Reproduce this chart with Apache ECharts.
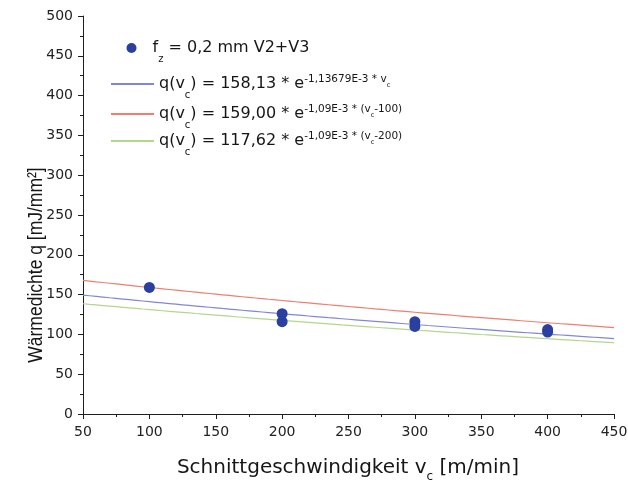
<!DOCTYPE html>
<html>
<head>
<meta charset="utf-8">
<script src="https://cdn.jsdelivr.net/npm/echarts@6/dist/echarts.min.js"></script>
<style>
  html, body { margin: 0; padding: 0; background: #ffffff; }
  #chart { width: 628px; height: 480px; }
</style>
</head>
<body>
<div id="chart"></div>
<script>
// Measured heat density per cutting speed (fz = 0,2 mm, V2+V3)
const speedValues = [100, 200, 200, 300, 300, 400, 400];
const heatValues  = [159, 126, 116, 116, 110, 106, 103];

// Exponential fits: q(vc) = A * exp(-k * (vc - v0)), coefficients as given in the legend
const fitNames     = ['fit1', 'fit2', 'fit3'];
const fitAmplitude = [158.13, 159.00, 117.62];
const fitRate      = [1.13679e-3, 1.09e-3, 1.09e-3];
const fitShift     = [0, 100, 200];

// Axis ranges and ticks
const xTicks = [50, 100, 150, 200, 250, 300, 350, 400, 450];
const yTicks = [0, 50, 100, 150, 200, 250, 300, 350, 400, 450, 500];

const FONT = 'DejaVu Sans';
const TEXT = '#161616';
const AXIS = '#1e1e1e';
const fitColors = ['#8088d6', '#ee7f6e', '#b3d78a'];
const pointColor = '#2a3f9f';

function fitCurve(i) {
  const pts = [];
  for (let v = xTicks[0]; v <= xTicks[xTicks.length - 1]; v += 5) {
    pts.push([v, fitAmplitude[i] * Math.exp(-fitRate[i] * (v - fitShift[i]))]);
  }
  return pts;
}

const legendText = {
  pts:  '{f0|f}{sub|z}{m| = 0,2 mm V2+V3}',
  fit1: '{m|q(v}{sub|c}{m|) = 158,13 * e}{sup|-1,13679E-3 * v}{ss|c}',
  fit2: '{m|q(v}{sub|c}{m|) = 159,00 * e}{sup|-1,09E-3 * (v}{ss|c}{sup|-100)}',
  fit3: '{m|q(v}{sub|c}{m|) = 117,62 * e}{sup|-1,09E-3 * (v}{ss|c}{sup|-200)}'
};

const rich = {
  m:   { fontFamily: FONT, fontSize: 16, lineHeight: 40, color: TEXT },
  f0:  { fontFamily: FONT, fontSize: 16, lineHeight: 40, color: TEXT, padding: [0, 0, 0, 11] },
  sub: { fontFamily: FONT, fontSize: 10, padding: [22, 0, 0, 0], color: TEXT },
  sup: { fontFamily: FONT, fontSize: 10.5, padding: [0, 0, 9, 0], color: TEXT },
  ss:  { fontFamily: FONT, fontSize: 6.5, padding: [2, 0, 0, 0], color: TEXT }
};

function legendRow(name, left, top, itemWidth, icon) {
  const l = {
    data: [name],
    left: left,
    top: top,
    padding: 0,
    itemWidth: itemWidth,
    itemHeight: 10,
    selectedMode: false,
    formatter: (n) => legendText[n],
    textStyle: { fontFamily: FONT, fontSize: 16, color: TEXT, rich: rich }
  };
  if (icon) {
    l.icon = icon;
    l.itemStyle = { color: pointColor, opacity: 1 };
  } else {
    // plain line sample, no marker
    l.itemStyle = { opacity: 0 };
  }
  return l;
}

const series = [{
  name: 'pts',
  type: 'scatter',
  data: speedValues.map((v, i) => [v, heatValues[i]]),
  symbol: 'circle',
  symbolSize: 11,
  itemStyle: { color: pointColor, opacity: 1 },
  z: 5
}];
fitNames.forEach((n, i) => {
  series.push({
    name: n,
    type: 'line',
    data: fitCurve(i),
    symbol: 'none',
    showSymbol: false,
    lineStyle: { color: fitColors[i], width: 1.2 },
    itemStyle: { color: fitColors[i] },
    z: 2
  });
});

const axisCommon = {
  type: 'value',
  interval: 50,
  axisLine: { show: true, onZero: false, lineStyle: { color: AXIS, width: 1 } },
  axisTick: { show: true, length: 5, lineStyle: { color: AXIS } },
  minorTick: { show: true, splitNumber: 2, length: 3, lineStyle: { color: AXIS } },
  splitLine: { show: false },
  axisLabel: { fontFamily: FONT, fontSize: 14, color: '#222222' }
};

const chart = echarts.init(document.getElementById('chart'), null, { renderer: 'canvas' });
chart.setOption({
  animation: false,
  backgroundColor: '#ffffff',
  grid: { left: 83, right: 14, top: 16, bottom: 66, containLabel: false, outerBoundsMode: 'none' },
  xAxis: Object.assign({}, axisCommon, {
    min: xTicks[0], max: xTicks[xTicks.length - 1],
    axisLabel: Object.assign({}, axisCommon.axisLabel, { margin: 11 })
  }),
  yAxis: Object.assign({}, axisCommon, {
    min: yTicks[0], max: yTicks[yTicks.length - 1],
    axisLabel: Object.assign({}, axisCommon.axisLabel, { margin: 10 })
  }),
  legend: [
    legendRow('pts', 126.5, 40, 10, 'circle'),
    legendRow('fit1', 110, 74, 43),
    legendRow('fit2', 110, 104, 43),
    legendRow('fit3', 110, 131, 43)
  ],
  graphic: [
    {
      type: 'text',
      x: 348, y: 468,
      silent: true,
      style: {
        text: '{a|Schnittgeschwindigkeit v}{s|c}{a| [m/min]}',
        rich: {
          a: { fontFamily: FONT, fontSize: 20, lineHeight: 30, fill: TEXT, color: TEXT },
          s: { fontFamily: FONT, fontSize: 12, padding: [18, 0, 0, 0], fill: TEXT, color: TEXT }
        },
        align: 'center', textAlign: 'center',
        verticalAlign: 'middle', textVerticalAlign: 'middle'
      }
    },
    {
      type: 'text',
      x: 36, y: 265,
      rotation: Math.PI / 2,
      scaleY: 1.2,
      silent: true,
      style: {
        text: 'Wärmedichte q [mJ/mm²]',
        font: '17.5px "Liberation Sans"',
        fill: TEXT,
        align: 'center', textAlign: 'center',
        verticalAlign: 'middle', textVerticalAlign: 'middle'
      }
    }
  ],
  series: series
});
</script>
</body>
</html>
